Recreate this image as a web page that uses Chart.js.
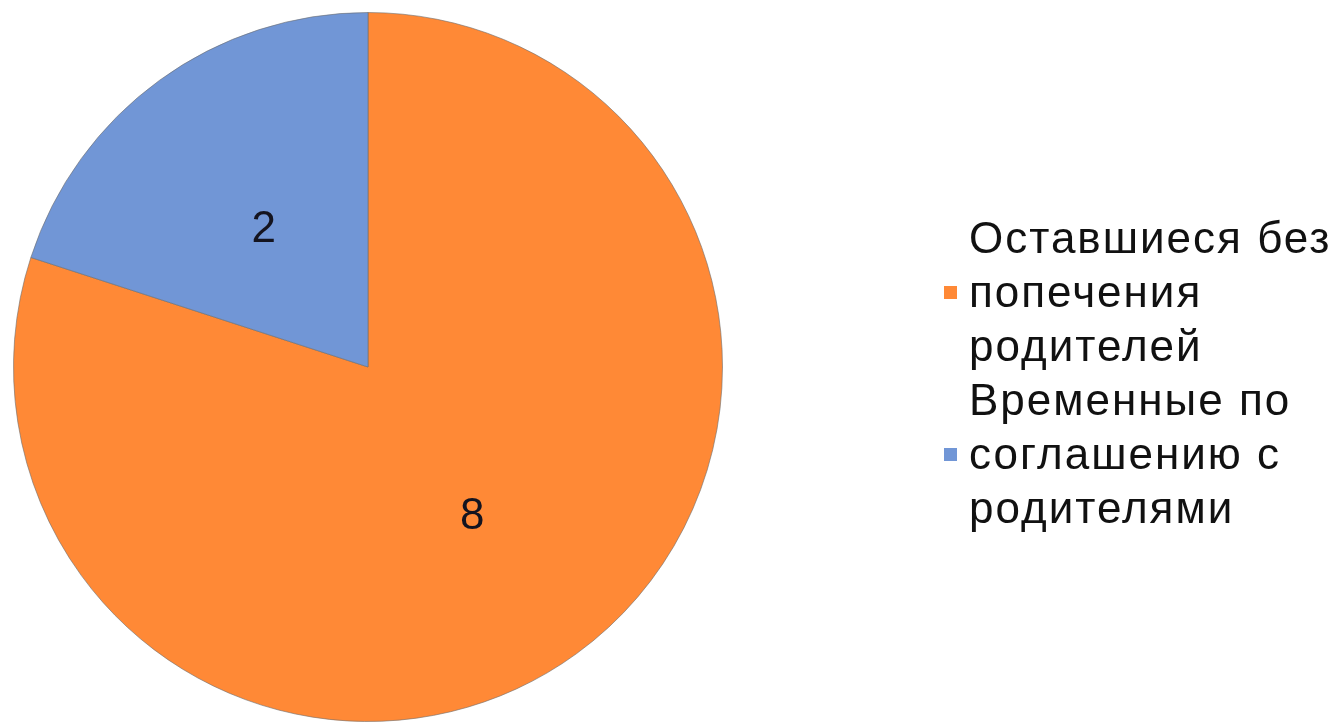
<!DOCTYPE html>
<html>
<head>
<meta charset="utf-8">
<script src="https://cdn.jsdelivr.net/npm/chart.js@4.4.1/dist/chart.umd.min.js"></script>
<style>
  html, body { margin: 0; padding: 0; background: #fff; }
  #wrap { width: 1336px; height: 724px; }
</style>
</head>
<body>
<div id="wrap"><canvas id="pieChart" width="1336" height="724"></canvas></div>
<script>
// Данные диаграммы
const categories = [
    ['Оставшиеся без', 'попечения', 'родителей'],
    ['Временные по', 'соглашению с', 'родителями']
];
const values = [8, 2];
const colors = ['#FF8936', '#7196D6'];

const FONT = '"Liberation Sans", Arial, sans-serif';

// Подписи значений и легенда рисуем сами (многострочные подписи)
const customDraw = {
    id: 'customDraw',
    afterDatasetsDraw(chart) {
        const ctx = chart.ctx;
        const meta = chart.getDatasetMeta(0);
        ctx.save();
        ctx.fillStyle = '#141420';
        ctx.font = '44px ' + FONT;
        ctx.textAlign = 'center';
        ctx.textBaseline = 'middle';
        meta.data.forEach((arc, i) => {
            const p = arc.getProps(['x', 'y', 'startAngle', 'endAngle', 'outerRadius'], true);
            const mid = (p.startAngle + p.endAngle) / 2;
            const r = p.outerRadius * 0.5;
            ctx.fillText(String(values[i]), p.x + Math.cos(mid) * r, p.y + Math.sin(mid) * r + 6);
        });

        // Легенда
        const lineH = 54;
        const textX = 969;
        let y = 241;
        ctx.textAlign = 'left';
        ctx.font = '44px ' + FONT;
        ctx.letterSpacing = '2px';
        categories.forEach((lines, i) => {
            const midLine = Math.floor(lines.length / 2);
            lines.forEach((line, j) => {
                ctx.fillStyle = '#111';
                ctx.fillText(line, textX, y + j * lineH);
                if (j === midLine) {
                    ctx.fillStyle = colors[i];
                    ctx.fillRect(944, y + j * lineH - 9, 13, 13);
                }
            });
            y += lines.length * lineH;
        });
        ctx.restore();
    }
};

const ctx = document.getElementById('pieChart').getContext('2d');
const chart = new Chart(ctx, {
    type: 'pie',
    data: {
        labels: categories,
        datasets: [{
            data: values,
            backgroundColor: colors,
            borderColor: 'rgba(110,110,110,0.6)',
            borderWidth: 1
        }]
    },
    options: {
        responsive: false,
        animation: false,
        layout: {
            padding: { left: 12, right: 612, top: 12, bottom: 2 }
        },
        plugins: {
            legend: { display: false },
            tooltip: { enabled: false }
        }
    },
    plugins: [customDraw]
});
</script>
</body>
</html>
